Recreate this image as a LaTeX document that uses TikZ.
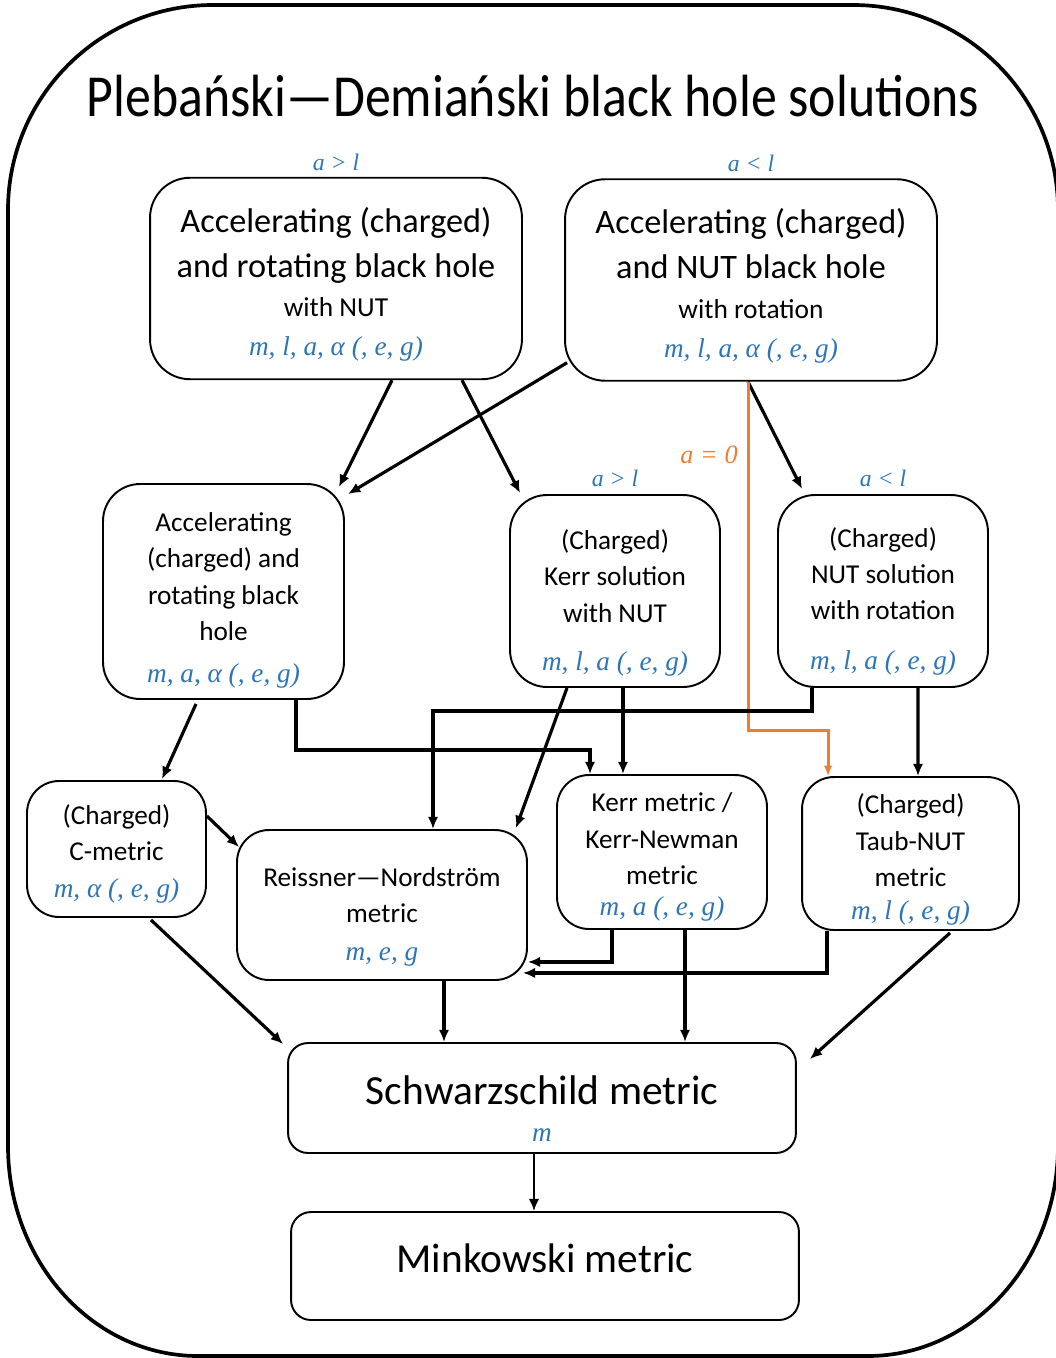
\documentclass[tikz,border=0pt]{standalone}
\usepackage{graphicx}
\usepackage{fontspec}
\setmainfont{Carlito}
\newfontfamily\prmfont{Liberation Serif}
\usetikzlibrary{arrows.meta,calc}
\definecolor{prmblue}{HTML}{2E75B6}
\definecolor{limitorange}{HTML}{ED7D31}
% parameters of a solution, set in blue italics
\newcommand{\prm}[1]{{\color{prmblue}\prmfont\itshape\fontsize{15.5}{18}\selectfont #1}}
% extra room above the first line of a box
\newcommand{\padtop}[2]{\raisebox{0pt}[\dimexpr\height+#1\relax]{#2}}

\tikzset{
  box/.style={draw, line width=1.1pt, align=center, inner sep=0pt},
  bigbox/.style={box, rounded corners=0.8cm, minimum width=7.44cm, minimum height=4.03cm,
                 font=\fontsize{19.5}{25.6}\selectfont},
  midbox/.style={box, rounded corners=0.74cm, font=\fontsize{15.5}{20.7}\selectfont},
  lowbox/.style={box, rounded corners=0.64cm, font=\fontsize{15.5}{20.7}\selectfont},
  endbox/.style={box, rounded corners=0.4cm, minimum width=10.16cm},
  cond/.style={text=prmblue, font=\prmfont\itshape\fontsize{13.5}{16}\selectfont, inner sep=0pt},
  arr/.style={line width=1.8pt, -{Latex[length=7pt,width=6pt]}},
  orng/.style={draw=limitorange, line width=1.7pt, -{Latex[length=6pt,width=5pt]}},
}

\begin{document}
\begin{tikzpicture}[x=0.02cm, y=-0.02cm]
  \useasboundingbox (0,0) rectangle (1055,1358);

  % outer frame
  \draw[line width=2.1pt] (213,5) -- (853,5) .. controls (966.2,5) and (1058,96.8) .. (1058,210)
    -- (1058,1146) .. controls (1058,1262) and (972.9,1356) .. (868,1356)
    -- (198,1356) .. controls (93.1,1356) and (8,1262) .. (8,1146)
    -- (8,210) .. controls (8,96.8) and (99.8,5) .. cycle;

  \node (title) at (533,96) {\fontsize{29.5}{30}\selectfont\scalebox{1}[1.15]{Plebański—Demiański black hole solutions}};

  % top row
  \node[bigbox, label={[cond, label distance=3.4pt]90:a > l}] (accrotnut) at (336,278.5)
    {\padtop{6.8pt}{Accelerating (charged)}\\and rotating black hole\\[-3.4pt]{\fontsize{15.6}{18}\selectfont with NUT}\\[-3.4pt]\prm{m, l, a, α (, e, g)}};
  \node[bigbox, label={[cond, label distance=3.4pt]90:a < l}] (accnutrot) at (751,280)
    {\padtop{6.8pt}{Accelerating (charged)}\\and NUT black hole\\[-2.8pt]{\fontsize{15.6}{18}\selectfont with rotation}\\[-3.4pt]\prm{m, l, a, α (, e, g)}};

  % middle row
  \node[midbox, minimum width=4.82cm, minimum height=4.3cm] (accrot) at (223.5,591.5)
    {\padtop{10.2pt}{Accelerating}\\(charged) and\\rotating black\\hole\\[3.2pt]\prm{m, a, α (, e, g)}};
  \node[midbox, minimum width=4.2cm, minimum height=3.84cm, label={[cond, label distance=4pt]90:a > l}] (kerrnut) at (615,591)
    {\padtop{13.7pt}{(Charged)}\\Kerr solution\\with NUT\\[6.8pt]\prm{m, l, a (, e, g)}};
  \node[midbox, minimum width=4.2cm, minimum height=3.84cm, label={[cond, label distance=4pt]90:a < l}] (nutrot) at (883,591)
    {\padtop{11.4pt}{(Charged)}\\NUT solution\\with rotation\\[7.4pt]\prm{m, l, a (, e, g)}};

  % lower row
  \node[lowbox, minimum width=3.58cm, minimum height=2.72cm] (cmetric) at (116.5,849)
    {\padtop{5.7pt}{(Charged)}\\C-metric\\[0.3pt]\prm{m, α (, e, g)}};
  \node[lowbox, minimum width=5.8cm, minimum height=3cm] (rn) at (382,905)
    {\padtop{13.7pt}{Reissner—Nordström}\\metric\\[1pt]\prm{m, e, g}};
  \node[lowbox, minimum width=4.2cm, minimum height=3.08cm] (kerr) at (662,852)
    {\padtop{5.7pt}{Kerr metric /}\\Kerr-Newman\\metric\\[-3.1pt]\prm{m, a (, e, g)}};
  \node[lowbox, minimum width=4.34cm, minimum height=3.06cm] (taubnut) at (910.5,853.5)
    {\padtop{6.8pt}{(Charged)}\\Taub-NUT\\metric\\[-1.9pt]\prm{m, l (, e, g)}};

  % bottom
  \node[endbox, minimum height=2.2cm, font=\fontsize{23.6}{21}\selectfont] (schw) at (542,1098)
    {\padtop{12.5pt}{Schwarzschild metric}\\\prm{m}};
  \node[endbox, minimum height=2.16cm, font=\fontsize{23.5}{24}\selectfont] (mink) at (545,1266)
    {\raisebox{0pt}[\height][\dimexpr\depth+9.1pt\relax]{Minkowski metric}};

  % limits
  \draw[arr] ($(accrotnut.south)+(56,0)$) -- ($(accrot.north east)+(-6,4)$);
  \draw[arr] ($(accrotnut.south)+(126,0)$) -- ($(kerrnut.north west)+(11,-1)$);
  \draw[arr] ($(accnutrot.south west)+(3,-19)$) -- ($(accrot.north east)+(3,11)$);
  \draw[arr] ($(accnutrot.south)+(-3,0)$) -- ($(nutrot.north west)+(25,-5)$);
  \draw[orng] ($(accnutrot.south)+(-3,0)$) -- ++(0,349)
    node[pos=0.21, left=5pt, cond, text=limitorange, font=\prmfont\itshape\fontsize{15}{16}\selectfont] (azero) {a = 0}
    -| ($(taubnut.north west)+(27,0)$);
  \draw[arr] ($(accrot.south)+(-27.5,4)$) -- ($(cmetric.north)+(45.5,-1)$);
  \draw[arr] ($(accrot.south)+(72.5,0)$) -- ++(0,50) -| ($(kerr.north)+(-72,0)$);
  \draw[arr] ($(kerrnut.south)+(8,0)$) -- ($(kerr.north)+(-39,0)$);
  \draw[arr] ($(kerrnut.south)+(-48,0)$) -- ($(rn.north east)+(-12,-1)$);
  \draw[arr] ($(nutrot.south)+(-71,0)$) -- ++(0,23) -| ($(rn.north)+(51,0)$);
  \draw[arr] ($(nutrot.south)+(35,0)$) -- ($(taubnut.north)+(7.5,0)$);
  \draw[arr] ($(cmetric.north east)+(0,36)$) -- ($(rn.north west)+(3,18)$);
  \draw[arr] ($(cmetric.south)+(34.5,2)$) -- ($(schw.north west)+(-4,2)$);
  \draw[arr] ($(kerr.south)+(-50,0)$) |- ($(rn.south east)+(0,-19)$);
  \draw[arr] ($(taubnut.south)+(-83.5,0)$) |- ($(rn.south east)+(-5,-8)$);
  \draw[arr] ($(rn.south)+(62,0)$) -- ($(schw.north)+(-98,0)$);
  \draw[arr] ($(kerr.south)+(23,0)$) -- ($(schw.north)+(143,0)$);
  \draw[arr] ($(taubnut.south)+(39.5,2)$) -- ($(schw.north east)+(13,17)$);
  \draw[arr, line width=1.2pt] ($(schw.south)+(-8,0)$) -- ($(mink.north)+(-11,0)$);
\end{tikzpicture}
\end{document}
